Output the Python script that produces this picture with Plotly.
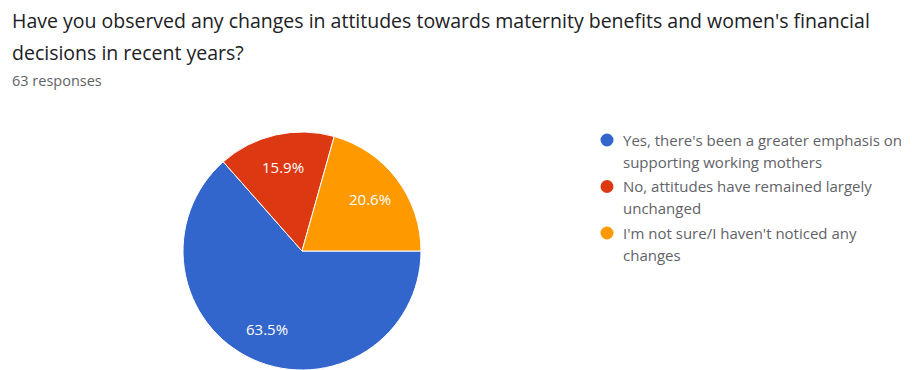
import math
import plotly.graph_objects as go

# Survey question and answer data
question_lines = [
    "Have you observed any changes in attitudes towards maternity benefits and women's financial",
    "decisions in recent years?",
]
response_note = "63 responses"
answer_lines = [
    ["Yes, there's been a greater emphasis on", "supporting working mothers"],
    ["No, attitudes have remained largely", "unchanged"],
    ["I'm not sure/I haven't noticed any", "changes"],
]
counts = [40, 10, 13]
colors = ["#3366cc", "#dc3912", "#ff9900"]

W, H = 912, 370
FONT = "Open Sans, Arial, sans-serif"

# pie placement (pixels)
cx, cy, radius = 302, 251, 119

fig = go.Figure()

fig.add_trace(go.Pie(
    labels=[" ".join(l) for l in answer_lines],
    values=counts,
    sort=False,
    direction="clockwise",
    rotation=90,
    marker=dict(colors=colors, line=dict(color="white", width=1)),
    textinfo="none",
    domain=dict(x=[(cx - radius) / W, (cx + radius) / W],
                y=[(H - cy - radius) / H, (H - cy + radius) / H]),
    showlegend=False,
    hoverinfo="label+percent",
))

annotations = []

# percentage labels placed along each slice bisector
total = sum(counts)
start = 0.0
for c in counts:
    sweep = 360.0 * c / total
    mid = math.radians(start - sweep / 2)  # clockwise from 3 o'clock
    r = 0.72 * radius
    px = cx + r * math.cos(mid)
    py = cy - r * math.sin(mid)
    annotations.append(dict(
        text=f"{100 * c / total:.1f}%", xref="paper", yref="paper",
        x=px / W, y=1 - py / H, xanchor="center", yanchor="middle",
        showarrow=False, font=dict(family=FONT, size=15, color="white"),
    ))
    start -= sweep

# question heading
for i, line in enumerate(question_lines):
    annotations.append(dict(
        text=line, xref="paper", yref="paper", x=10 / W, y=1 - (20 + 32 * i) / H,
        xanchor="left", yanchor="middle", showarrow=False,
        font=dict(family=FONT, size=19.5, color="#202124"),
    ))
annotations.append(dict(
    text=response_note, xref="paper", yref="paper", x=10 / W, y=1 - 80 / H,
    xanchor="left", yanchor="middle", showarrow=False,
    font=dict(family=FONT, size=14.5, color="#5f6368"),
))

# legend: round markers with wrapped labels
shapes = []
leg_x, leg_y, item_gap, line_gap, dot_r = 607, 140, 46.5, 21.5, 6.5
for i, (lines, col) in enumerate(zip(answer_lines, colors)):
    y0 = leg_y + item_gap * i
    shapes.append(dict(
        type="circle", xref="paper", yref="paper",
        x0=(leg_x - dot_r) / W, x1=(leg_x + dot_r) / W,
        y0=1 - (y0 + dot_r) / H, y1=1 - (y0 - dot_r) / H,
        fillcolor=col, line=dict(width=0),
    ))
    for j, line in enumerate(lines):
        annotations.append(dict(
            text=line, xref="paper", yref="paper",
            x=(leg_x + 14) / W, y=1 - (y0 + line_gap * j) / H,
            xanchor="left", yanchor="middle", showarrow=False,
            font=dict(family=FONT, size=15, color="#5f6368"),
        ))

fig.update_layout(
    width=W, height=H,
    margin=dict(l=0, r=0, t=0, b=0),
    paper_bgcolor="white", plot_bgcolor="white",
    annotations=annotations,
    shapes=shapes,
)

fig.write_html("out.html")
